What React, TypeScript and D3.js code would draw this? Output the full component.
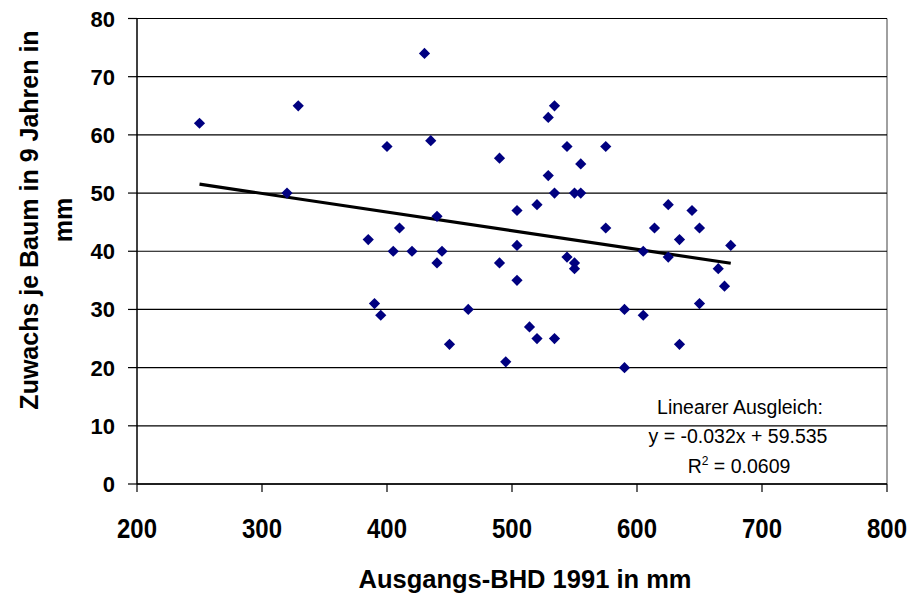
import React from "react";
import * as d3 from "d3";

const bhd: number[] = [
  250, 320, 329, 385, 390, 395, 400, 405, 410, 420, 430, 435, 440, 440, 444,
  450, 465, 490, 490, 495, 504, 504, 504, 514, 520, 520, 529, 529, 534, 534,
  534, 544, 544, 550, 550, 550, 555, 555, 575, 575, 590, 590, 605, 605, 614,
  625, 625, 634, 634, 644, 650, 650, 665, 670, 675,
];
const zuwachs: number[] = [
  62, 50, 65, 42, 31, 29, 58, 40, 44, 40, 74, 59, 46, 38, 40,
  24, 30, 56, 38, 21, 47, 41, 35, 27, 48, 25, 63, 53, 65, 50,
  25, 58, 39, 50, 38, 37, 55, 50, 58, 44, 30, 20, 40, 29, 44,
  48, 39, 42, 24, 47, 44, 31, 37, 34, 41,
];
const xTicks: number[] = [200, 300, 400, 500, 600, 700, 800];
const yTicks: number[] = [0, 10, 20, 30, 40, 50, 60, 70, 80];
const trendSlope = -0.032;
const trendIntercept = 59.535;
const annotationLines: string[] = ["Linearer Ausgleich:", "y = -0.032x + 59.535"];
const r2Label = "= 0.0609";
const xTitle = "Ausgangs-BHD 1991 in mm";
const yTitleLines: string[] = ["Zuwachs je Baum in 9 Jahren in", "mm"];

const W = 922;
const H = 597;
const M = { left: 137, right: 887, top: 18.5, bottom: 484 };
const R = 5.6; // diamond half-diagonal

export default function App() {
  const x = d3.scaleLinear().domain([200, 800]).range([M.left, M.right]);
  const y = d3.scaleLinear().domain([0, 80]).range([M.bottom, M.top]);
  const points = bhd.map((v, i) => ({ x: v, y: zuwachs[i] }));
  const diamond = `M0,${-R}L${R},0L0,${R}L${-R},0Z`;
  const xMin = d3.min(bhd) as number;
  const xMax = d3.max(bhd) as number;
  const trend = d3
    .line<number>()
    .x((d) => x(d))
    .y((d) => y(trendSlope * d + trendIntercept))([xMin, xMax]);
  const font = "'Liberation Sans', Arial, sans-serif";

  return (
    <svg
      width={W}
      height={H}
      style={{ position: "absolute", left: 0, top: 0, background: "#fff" }}
      fontFamily={font}
    >
      <rect x={0} y={0} width={W} height={H} fill="#fff" />
      <line x1={M.right} x2={M.right} y1={M.top} y2={M.bottom} stroke="#808080" strokeWidth={1.5} />
      {yTicks.map((t) => (
        <line key={"g" + t} x1={M.left} x2={M.right} y1={y(t)} y2={y(t)} stroke="#000" strokeWidth={1.2} />
      ))}
      <line x1={M.left} x2={M.left} y1={M.top} y2={M.bottom} stroke="#000" strokeWidth={1.5} />
      {yTicks.map((t) => (
        <g key={"yt" + t}>
          <line x1={M.left - 9} x2={M.left} y1={y(t)} y2={y(t)} stroke="#000" strokeWidth={1.2} />
          <text x={115} y={y(t) + 8} textAnchor="end" fontSize={22} fontWeight="bold" fill="#000">
            {t}
          </text>
        </g>
      ))}
      <line x1={M.left} x2={M.right} y1={M.bottom} y2={M.bottom} stroke="#000" strokeWidth={1.5} />
      {xTicks.map((t) => (
        <g key={"xt" + t}>
          <line x1={x(t)} x2={x(t)} y1={M.bottom} y2={M.bottom + 8} stroke="#000" strokeWidth={1.2} />
          <text
            x={x(t)}
            y={538}
            textAnchor="middle"
            fontSize={27}
            fontWeight="bold"
            fill="#000"
            textLength={40}
            lengthAdjust="spacingAndGlyphs"
          >
            {t}
          </text>
        </g>
      ))}
      <path d={trend || ""} fill="none" stroke="#000" strokeWidth={3.2} />
      {points.map((p, i) => (
        <path
          key={"p" + i}
          d={diamond}
          transform={`translate(${x(p.x)},${y(p.y)})`}
          fill="#000080"
        />
      ))}
      <text x={740} y={414} textAnchor="middle" fontSize={19.5} fill="#000">
        {annotationLines[0]}
      </text>
      <text x={738} y={443} textAnchor="middle" fontSize={19.5} fill="#000">
        {annotationLines[1]}
      </text>
      <text x={739} y={473} textAnchor="middle" fontSize={19.5} fill="#000">
        <tspan>R</tspan>
        <tspan fontSize={12} dy={-8}>2</tspan>
        <tspan dy={8}>{" " + r2Label}</tspan>
      </text>
      <text x={525} y={588} textAnchor="middle" fontSize={25.5} fontWeight="bold" fill="#000">
        {xTitle}
      </text>
      <g transform="translate(38,220) rotate(-90)">
        <text x={0} y={0} textAnchor="middle" fontSize={25} fontWeight="bold" fill="#000">
          {yTitleLines[0]}
        </text>
        <text x={0} y={34} textAnchor="middle" fontSize={25} fontWeight="bold" fill="#000">
          {yTitleLines[1]}
        </text>
      </g>
    </svg>
  );
}
